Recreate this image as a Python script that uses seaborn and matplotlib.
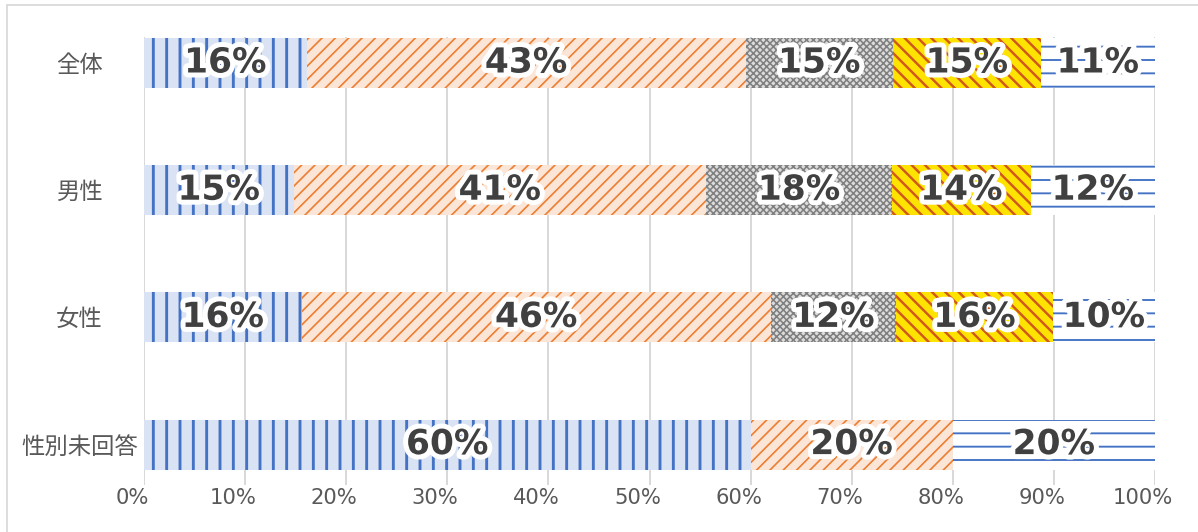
import numpy as np
import pandas as pd
import matplotlib
matplotlib.use("Agg")
import matplotlib.pyplot as plt
import matplotlib.patheffects as pe
from matplotlib.transforms import ScaledTranslation
from matplotlib.lines import Line2D
import seaborn as sns

# ---------------- data ----------------
categories = ["全体", "男性", "女性", "性別未回答"]
seg1 = [16.1, 14.8, 15.6, 60.0]
seg2 = [43.4, 40.8, 46.4, 20.0]
seg3 = [14.6, 18.4, 12.4, 0.0]
seg4 = [14.6, 13.7, 15.5, 0.0]
seg5 = [11.3, 12.3, 10.1, 20.0]
xticks = [0, 10, 20, 30, 40, 50, 60, 70, 80, 90, 100]
xtick_labels = [f"{t}%" for t in xticks]

segments = [seg1, seg2, seg3, seg4, seg5]
# (facecolor, hatch colour, hatch, hatch linewidth)
styles = [
    ("#DAE3F3", "#4472C4", "|", 2.6),
    ("#FBE5D6", "#ED7D31", "//", 1.5),
    ("#DCDCDC", "#7F7F7F", "xxxx", 1.4),
    ("#FFE300", "#D0581C", "\\\\", 2.2),
    ("#FFFFFF", "#4472C4", "-", 1.7),
]

DPI = 80
sns.set_theme(style="white")
plt.rcParams["font.family"] = ["DejaVu Sans", "Noto Sans CJK JP"]

fig = plt.figure(figsize=(1198 / DPI, 532 / DPI), dpi=DPI)
ax = fig.add_axes([144 / 1198, 1 - 485 / 532, (1155 - 144) / 1198, (485 - 37) / 532])

vals = np.array(segments)
cum = np.cumsum(vals, axis=0)
df = pd.DataFrame({"category": categories})
for k in range(5):
    df[f"cum{k}"] = cum[k]

# draw cumulative bars from the longest to the shortest
for k in reversed(range(5)):
    face, hcol, hatch, hlw = styles[k]
    n_before = len(ax.patches)
    with plt.rc_context({"hatch.linewidth": hlw}):
        sns.barplot(data=df, x=f"cum{k}", y="category", orient="h", width=0.393,
                    color=face, saturation=1, errorbar=None, ax=ax, zorder=2)
        for p in ax.patches[n_before:]:
            p.set_facecolor(face)
            p.set_edgecolor(hcol)
            p.set_linewidth(0)
            p.set_hatch(hatch)
            if hasattr(p, "set_hatch_linewidth"):
                p.set_hatch_linewidth(hlw)

# value labels
starts = np.vstack([np.zeros(4), cum[:-1]])
for k in range(5):
    for i in range(4):
        v = vals[k, i]
        if v <= 0:
            continue
        ax.text(starts[k, i] + v / 2, i, f"{round(v)}%", ha="center", va="center",
                fontsize=31, fontweight="bold", color="#404040", family="DejaVu Sans",
                zorder=5,
                path_effects=[pe.withStroke(linewidth=9, foreground="white")])

ax.set_xlim(0, 100)
ax.set_ylim((485 - 63) / 127.2, (37 - 63) / 127.2)
ax.set_xticks(xticks)
ax.set_xticklabels(xtick_labels)
ax.set_yticks(range(4))
ax.set_yticklabels(categories)
ax.set_xlabel("")
ax.set_ylabel("")

ax.grid(axis="x", color="#D9D9D9", linewidth=1.8, zorder=0)
ax.grid(axis="y", visible=False)
ax.set_axisbelow(True)
for s in ax.spines.values():
    s.set_visible(False)

ax.tick_params(axis="x", length=0, pad=3, labelsize=19, labelcolor="#595959")
ax.tick_params(axis="y", length=0, pad=58, labelsize=21, labelcolor="#595959")
for lbl in ax.get_yticklabels():
    lbl.set_ha("center")
    lbl.set_family(["Noto Sans CJK JP", "DejaVu Sans"])
off = ScaledTranslation(-12 / DPI, 0, fig.dpi_scale_trans)
for lbl in ax.get_xticklabels():
    lbl.set_transform(lbl.get_transform() + off)

# outer chart border (top and left edges visible)
fig.add_artist(Line2D([7 / 1198, 1.0], [1 - 5 / 532, 1 - 5 / 532], transform=fig.transFigure,
                      color="#D9D9D9", linewidth=1.6))
fig.add_artist(Line2D([7 / 1198, 7 / 1198], [0.0, 1 - 5 / 532], transform=fig.transFigure,
                      color="#D9D9D9", linewidth=1.6))

fig.savefig("out.png", dpi=DPI, facecolor="white")
